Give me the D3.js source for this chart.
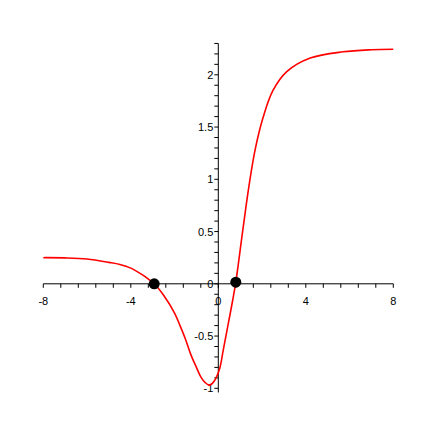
<!DOCTYPE html>
<html>
<head>
<meta charset="utf-8">
<script src="https://cdn.jsdelivr.net/npm/d3@7"></script>
<style>
  html, body { margin: 0; padding: 0; background: #fff; }
  svg { display: block; }
  text { font-family: "Liberation Sans", Arial, Helvetica, sans-serif; font-size: 11px; fill: #000; }
</style>
</head>
<body>
<svg id="chart" width="438" height="438"></svg>
<script>
// ---- data ----
const curveX = [-8, -7, -6, -5, -4.5, -4.0, -3.5, -3.2, -2.93, -2.5, -2.0, -1.75, -1.5, -1.25, -1.0, -0.8, -0.6, -0.4, -0.2, 0.05, 0.23, 0.43, 0.66, 0.8, 1.14, 1.42, 1.68, 2.06, 2.5, 3.13, 4.2, 5.7, 7, 8];
const curveY = [0.25, 0.248, 0.237, 0.205, 0.185, 0.15, 0.09, 0.045, 0.0, -0.11, -0.28, -0.40, -0.53, -0.68, -0.80, -0.89, -0.945, -0.97, -0.935, -0.82, -0.63, -0.41, -0.155, 0.015, 0.545, 0.96, 1.28, 1.60, 1.85, 2.03, 2.16, 2.22, 2.24, 2.245];
const rootX = [-2.93, 0.8];
const rootY = [0.0, 0.015];
const xTickLabels = [-8, -4, 0, 4, 8];
const yTickLabels = [-1, -0.5, 0, 0.5, 1, 1.5, 2];
const xDomain = [-8, 8];
const yDomain = [-1.04, 2.3];

// ---- drawing ----
const svg = d3.select("#chart");
const x = d3.scaleLinear().domain(xDomain).range([43.3, 393.3]);
const y = d3.scaleLinear().domain([0, 2]).range([283.8, 74.8]);

const x0 = x(0), y0 = y(0);

// axes lines
svg.append("line").attr("x1", x(xDomain[0])).attr("x2", x(xDomain[1]))
  .attr("y1", y0).attr("y2", y0).attr("stroke", "#000").attr("stroke-width", 1);
svg.append("line").attr("x1", x0).attr("x2", x0)
  .attr("y1", y(yDomain[1])).attr("y2", y(yDomain[0])).attr("stroke", "#000").attr("stroke-width", 1);

// x minor ticks (every 0.8)
const xTicks = d3.range(0, 21).map(i => xDomain[0] + i * 0.8);
svg.append("g").selectAll("line").data(xTicks).join("line")
  .attr("x1", d => x(d)).attr("x2", d => x(d))
  .attr("y1", y0).attr("y2", y0 + 4)
  .attr("stroke", "#000").attr("stroke-width", 1);

// y minor ticks (every 0.1)
const yTicks = d3.range(0, 34).map(i => -1 + i * 0.1);
svg.append("g").selectAll("line").data(yTicks).join("line")
  .attr("x1", x0 - 4).attr("x2", x0)
  .attr("y1", d => y(d)).attr("y2", d => y(d))
  .attr("stroke", "#000").attr("stroke-width", 1);

// tick labels
svg.append("g").selectAll("text").data(xTickLabels).join("text")
  .attr("x", d => x(d)).attr("y", y0 + 21)
  .attr("text-anchor", "middle")
  .text(d => String(d));

svg.append("g").selectAll("text").data(yTickLabels).join("text")
  .attr("x", x0 - 5).attr("y", d => y(d) + 4)
  .attr("text-anchor", "end")
  .text(d => String(d));

// curve
const line = d3.line()
  .x((d, i) => x(curveX[i]))
  .y((d, i) => y(curveY[i]))
  .curve(d3.curveCatmullRom.alpha(0.5));
svg.append("path").datum(curveX).attr("d", line)
  .attr("fill", "none").attr("stroke", "#ff0000").attr("stroke-width", 1.6);

// roots
svg.append("g").selectAll("circle").data(rootX).join("circle")
  .attr("cx", d => x(d)).attr("cy", (d, i) => y(rootY[i]))
  .attr("r", 5.5).attr("fill", "#000");
</script>
</body>
</html>
